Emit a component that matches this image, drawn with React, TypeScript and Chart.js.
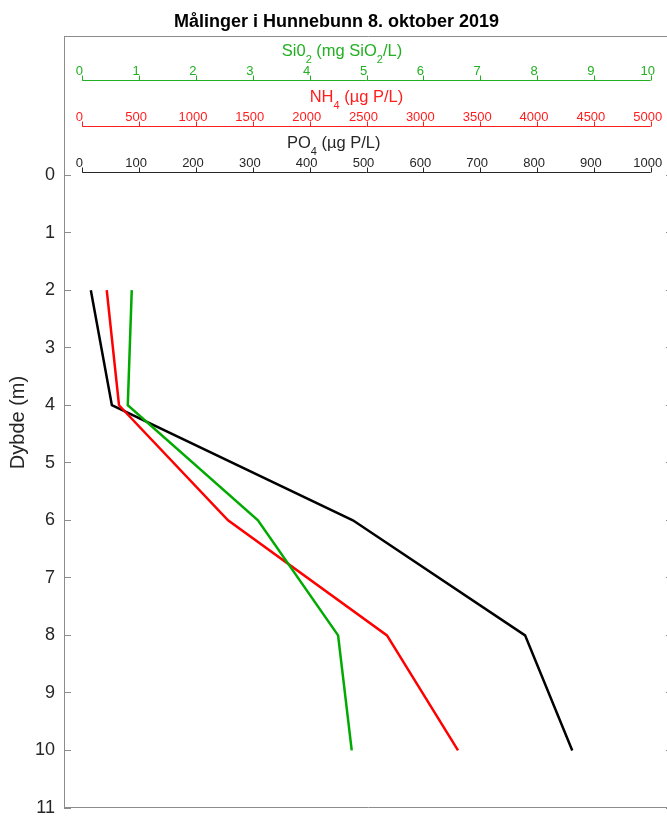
import React, { useEffect, useRef } from 'react';
import { Chart, registerables } from 'chart.js';

Chart.register(...registerables);

// ---------- data ----------
const depths = [2, 4, 6, 8, 10];
const po4Values = [15, 52, 476, 779, 862];
const nh4Values = [215, 323, 1282, 2680, 3305];
const sio2Values = [0.87, 0.8, 3.09, 4.5, 4.74];

const depthTicks = [0, 1, 2, 3, 4, 5, 6, 7, 8, 9, 10, 11];
const sio2Ticks = [0, 1, 2, 3, 4, 5, 6, 7, 8, 9, 10];
const nh4Ticks = [0, 500, 1000, 1500, 2000, 2500, 3000, 3500, 4000, 4500, 5000];
const po4Ticks = [0, 100, 200, 300, 400, 500, 600, 700, 800, 900, 1000];

const chartTitle = 'Målinger i Hunnebunn 8. oktober 2019';
const depthLabel = 'Dybde (m)';
// [text, isSubscript]
const sio2Title: [string, boolean][] = [['Si0', false], ['2', true], [' (mg SiO', false], ['2', true], ['/L)', false]];
const nh4Title: [string, boolean][] = [['NH', false], ['4', true], [' (µg P/L)', false]];
const po4Title: [string, boolean][] = [['PO', false], ['4', true], [' (µg P/L)', false]];

// ---------- styles ----------
const FONT = '"Liberation Sans", Arial, Helvetica, sans-serif';
const BOX_COLOR = '#8c8c8c';
const TEXT_COLOR = '#262626';
const GREEN_LINE = '#00aa00';
const RED_LINE = '#ff0000';
const BLACK_LINE = '#000000';
const GREEN_AXIS = '#22b022';
const RED_AXIS = '#ff1e1e';
const BLACK_AXIS = '#262626';

// fraction of the plot-box width where the inner x-axes start / end
const AX_A = 0.03005;
const AX_B = 0.9634;
const spanFor = (full: number) => ({
  min: (-full * AX_A) / (AX_B - AX_A),
  max: (full * (1 - AX_A)) / (AX_B - AX_A),
});

const DEPTH_MIN = -2.4;
const DEPTH_MAX = 11;

const topAxes = [
  { id: 'xSi', ticks: sio2Ticks, color: GREEN_AXIS, offset: 43, title: sio2Title, titleFrac: 0.351 },
  { id: 'xNH', ticks: nh4Ticks, color: RED_AXIS, offset: 89, title: nh4Title, titleFrac: 0.4 },
  { id: 'xPO', ticks: po4Ticks, color: BLACK_AXIS, offset: 135, title: po4Title, titleFrac: 0.36 },
];

const boxAndAxesPlugin = {
  id: 'boxAndAxes',
  beforeDatasetsDraw(chart: any) {
    const { ctx, chartArea } = chart;
    const { left, right, top, bottom } = chartArea;
    ctx.save();
    ctx.lineWidth = 1;
    ctx.strokeStyle = BOX_COLOR;
    ctx.beginPath();
    ctx.moveTo(left, Math.round(top) - 0.5);
    ctx.lineTo(right, Math.round(top) - 0.5);
    ctx.moveTo(left, Math.round(bottom) - 0.5);
    ctx.lineTo(right, Math.round(bottom) - 0.5);
    ctx.moveTo(Math.round(right) - 0.5, top);
    ctx.lineTo(Math.round(right) - 0.5, bottom);
    ctx.stroke();

    for (const ax of topAxes) {
      const scale = chart.scales[ax.id];
      const yLine = Math.round(top + ax.offset) + 0.5;
      const first = ax.ticks[0];
      const last = ax.ticks[ax.ticks.length - 1];
      const x0 = scale.getPixelForValue(first);
      const x1 = scale.getPixelForValue(last);
      ctx.strokeStyle = ax.color;
      ctx.fillStyle = ax.color;
      ctx.beginPath();
      ctx.moveTo(x0, yLine);
      ctx.lineTo(x1, yLine);
      for (const v of ax.ticks) {
        const x = Math.round(scale.getPixelForValue(v)) + 0.5;
        ctx.moveTo(x, yLine);
        ctx.lineTo(x, yLine - 5);
      }
      ctx.stroke();
      ctx.font = `13px ${FONT}`;
      ctx.textAlign = 'center';
      ctx.textBaseline = 'alphabetic';
      for (const v of ax.ticks) {
        const x = scale.getPixelForValue(v);
        ctx.fillText(String(v), x - 3, yLine - 6);
      }
      // title with subscripts
      let tx = scale.getPixelForValue(last * ax.titleFrac);
      const baseY = yLine - 25;
      ctx.textAlign = 'left';
      for (const [txt, sub] of ax.title) {
        ctx.font = sub ? `11px ${FONT}` : `16.5px ${FONT}`;
        ctx.fillText(txt, tx, sub ? baseY + 7 : baseY);
        tx += ctx.measureText(txt).width;
      }
    }
    ctx.restore();
  },
};

export default function App() {
  const canvasRef = useRef<HTMLCanvasElement | null>(null);

  useEffect(() => {
    const canvas = canvasRef.current;
    if (!canvas) return;
    const toPts = (vals: number[]) => vals.map((v, i) => ({ x: v, y: depths[i] }));
    const siSpan = spanFor(sio2Ticks[sio2Ticks.length - 1]);
    const nhSpan = spanFor(nh4Ticks[nh4Ticks.length - 1]);
    const poSpan = spanFor(po4Ticks[po4Ticks.length - 1]);
    const depthTickObjs = () => depthTicks.map((v) => ({ value: v }));

    const chart = new Chart(canvas, {
      type: 'line',
      data: {
        datasets: [
          {
            label: 'SiO2',
            data: toPts(sio2Values),
            xAxisID: 'xSi',
            yAxisID: 'y',
            borderColor: GREEN_LINE,
            borderWidth: 2.5,
            pointRadius: 0,
            fill: false,
            tension: 0,
          },
          {
            label: 'NH4',
            data: toPts(nh4Values),
            xAxisID: 'xNH',
            yAxisID: 'y',
            borderColor: RED_LINE,
            borderWidth: 2.5,
            pointRadius: 0,
            fill: false,
            tension: 0,
          },
          {
            label: 'PO4',
            data: toPts(po4Values),
            xAxisID: 'xPO',
            yAxisID: 'y',
            borderColor: BLACK_LINE,
            borderWidth: 2.5,
            pointRadius: 0,
            fill: false,
            tension: 0,
          },
        ],
      },
      options: {
        responsive: false,
        animation: false,
        devicePixelRatio: 1,
        layout: { padding: { left: 0, right: 3, top: 0, bottom: 28 } },
        plugins: {
          legend: { display: false },
          tooltip: { enabled: false },
          title: {
            display: true,
            text: chartTitle,
            color: '#000000',
            font: { family: FONT, size: 18, weight: 'bold' },
            padding: { top: 11, bottom: 4.4 },
          },
        },
        scales: {
          xSi: { type: 'linear', display: false, min: siSpan.min, max: siSpan.max },
          xNH: { type: 'linear', display: false, min: nhSpan.min, max: nhSpan.max },
          xPO: { type: 'linear', display: false, min: poSpan.min, max: poSpan.max },
          y: {
            type: 'linear',
            position: 'left',
            reverse: true,
            min: DEPTH_MIN,
            max: DEPTH_MAX,
            afterBuildTicks: (s: any) => {
              s.ticks = depthTickObjs();
            },
            afterFit: (s: any) => {
              s.width = 64;
            },
            grid: { drawOnChartArea: false, color: BOX_COLOR, tickLength: -7 },
            border: { display: true, color: BOX_COLOR, width: 1 },
            ticks: {
              font: { family: FONT, size: 18 },
              color: TEXT_COLOR,
              padding: 16,
              autoSkip: false,
            },
            title: {
              display: true,
              text: depthLabel,
              color: TEXT_COLOR,
              font: { family: FONT, size: 20 },
              padding: { top: 6, bottom: 0 },
            },
          },
          y2: {
            type: 'linear',
            position: 'right',
            reverse: true,
            min: DEPTH_MIN,
            max: DEPTH_MAX,
            afterBuildTicks: (s: any) => {
              s.ticks = depthTickObjs();
            },
            afterFit: (s: any) => {
              s.width = 0;
            },
            grid: { drawOnChartArea: false, color: BOX_COLOR, tickLength: -7 },
            border: { display: false },
            ticks: { display: false },
          },
        },
      } as any,
      plugins: [boxAndAxesPlugin],
    });
    return () => chart.destroy();
  }, []);

  return (
    <div style={{ position: 'absolute', left: 0, top: 0, width: 667, height: 816, overflow: 'hidden', background: '#ffffff' }}>
      <canvas ref={canvasRef} width={676} height={836} style={{ display: 'block', width: 676, height: 836 }} />
    </div>
  );
}
